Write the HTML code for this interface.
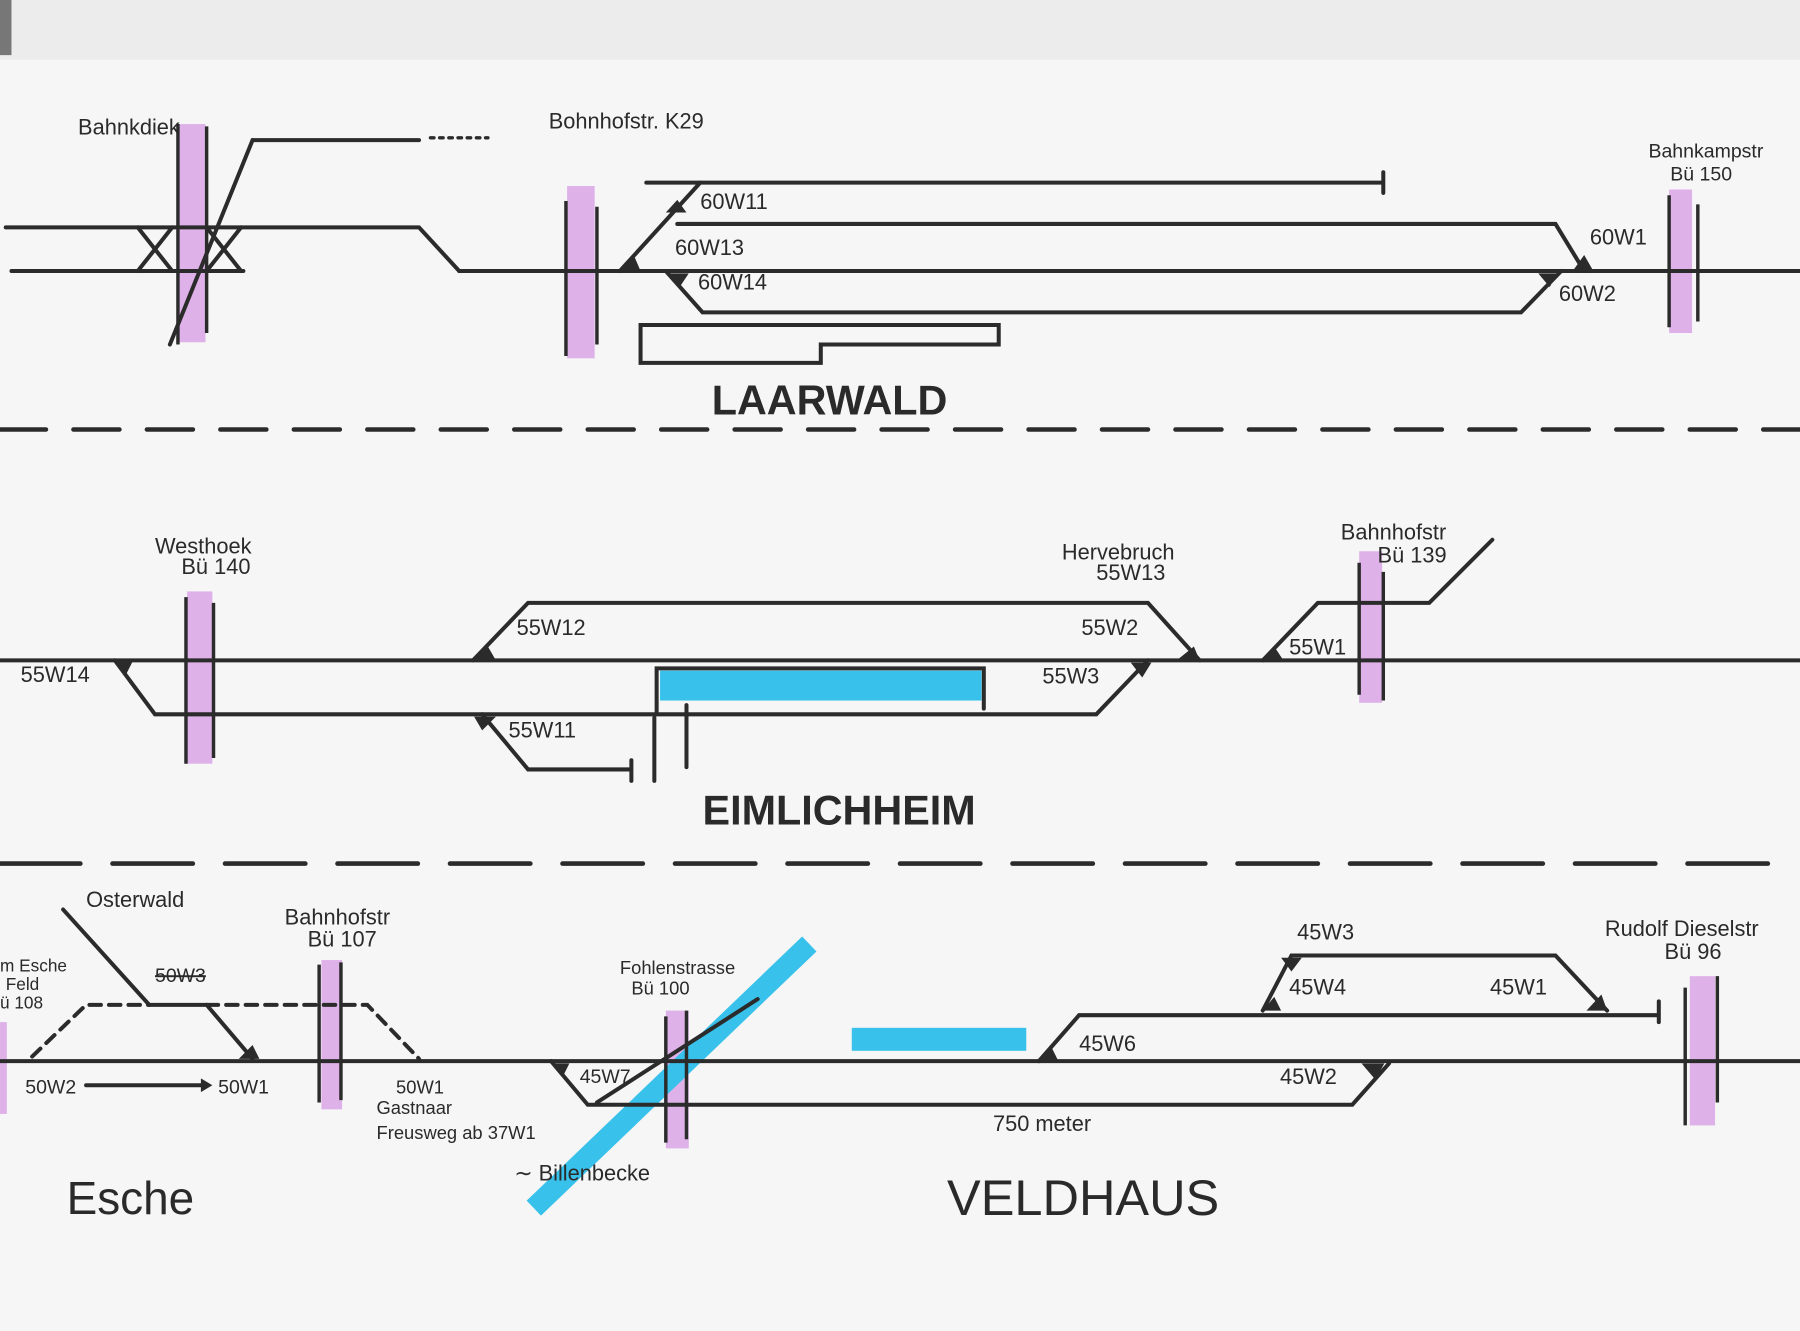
<!DOCTYPE html>
<html><head><meta charset="utf-8"><style>
html,body{margin:0;padding:0;background:#f5f5f5;}
svg{display:block}
text{font-family:"Liberation Sans",sans-serif;fill:#2a2a2a}
</style></head><body>
<svg width="1800" height="1331" viewBox="0 0 1568 1159" preserveAspectRatio="none" xmlns="http://www.w3.org/2000/svg">
<rect width="1568" height="1159" fill="#f6f6f6"/>
<rect width="1568" height="52" fill="#ececec"/>
<rect x="0" y="0" width="10" height="48" fill="#777"/>
<g fill="#d9a6e6" opacity="0.85">
<rect x="155" y="108" width="24" height="190"/>
<rect x="494" y="162" width="24" height="150"/>
<rect x="1454" y="165" width="20" height="125"/>
<rect x="163" y="515" width="22" height="150"/>
<rect x="1184" y="480" width="20" height="132"/>
<rect x="280" y="836" width="18" height="130"/>
<rect x="580" y="880" width="20" height="120"/>
<rect x="1472" y="850" width="22" height="130"/>
<rect x="0" y="890" width="6" height="80"/>
</g>
<rect x="575" y="584" width="280" height="26" fill="#38c1ea"/>
<path d="M465 1052 L705 822" stroke="#38c1ea" stroke-width="18"/>
<rect x="742" y="895" width="152" height="20" fill="#38c1ea"/>
<g stroke="#2b2b2b" stroke-width="3.5" fill="none" stroke-linecap="round">
<path d="M5 198 H365 L400 236"/>
<path d="M10 236 H212"/>
<path d="M220 122 H365"/>
<path d="M375 120 H425" stroke-dasharray="3 5" stroke-width="3"/>
<path d="M220 122 L148 300"/>
<path d="M120 198 L150 236 M150 198 L120 236 M180 198 L210 236 M210 198 L180 236"/>
<path d="M400 236 H1568"/>
<path d="M563 159 H1205 M1205 150 V168"/>
<path d="M610 159 L540 236"/>
<path d="M590 195 H1355 L1380 236"/>
<path d="M580 236 L612 272 H1325 L1360 236"/>
<path d="M558 283 H870 V300 H715 V316 H558 Z"/>
<path d="M0 374 H1568" stroke-dasharray="40 24" stroke-width="4"/>
<path d="M0 752 H1568" stroke-dasharray="70 28" stroke-width="4"/>
<path d="M0 575 H1568"/>
<path d="M100 575 L135 622 H420 L460 670 H550 M550 662 V680"/>
<path d="M420 622 H955 L1000 575"/>
<path d="M412 575 L460 525 H1000 L1045 575"/>
<path d="M1100 575 L1148 525 H1245 L1300 470"/>
<path d="M572 622 V582 H857 V617"/>
<path d="M570 625 V680 M598 614 V668"/>
<path d="M0 924 H1568"/>
<path d="M55 792 L130 875 H180 L220 922"/>
<path d="M28 920 L75 875 H130 M180 875 H320 L365 922" stroke-dasharray="10 7"/>
<path d="M75 945 H175"/>
<path d="M480 924 L512 962 H1178 L1210 926"/>
<path d="M905 924 L940 884 H1445 M1445 872 V890"/>
<path d="M1100 880 L1125 832 H1355 L1400 880"/>
<path d="M520 960 L660 870"/>
</g>
<path d="M175 939 L185 945 L175 951 Z" fill="#2b2b2b"/>
<g fill="#2b2b2b">
<path d="M580 185 L598 185 L590 174 Z"/>
<path d="M540 236 L558 236 L552 222 Z"/>
<path d="M582 238 L600 238 L592 250 Z"/>
<path d="M1370 236 L1388 236 L1380 222 Z"/>
<path d="M1340 238 L1356 238 L1350 250 Z"/>
<path d="M412 575 L432 575 L425 563 Z"/>
<path d="M100 575 L116 575 L110 587 Z"/>
<path d="M1025 575 L1045 575 L1040 563 Z"/>
<path d="M985 577 L1003 577 L995 590 Z"/>
<path d="M1100 575 L1118 575 L1110 563 Z"/>
<path d="M413 624 L432 624 L420 636 Z"/>
<path d="M208 922 L226 922 L220 910 Z"/>
<path d="M905 924 L922 924 L915 910 Z"/>
<path d="M1100 880 L1116 880 L1110 868 Z"/>
<path d="M1116 834 L1134 834 L1125 846 Z"/>
<path d="M1382 880 L1400 880 L1395 866 Z"/>
<path d="M1186 926 L1206 926 L1198 940 Z"/>
<path d="M480 926 L496 926 L490 938 Z"/>
</g>
<g stroke="#2b2b2b" stroke-width="3" fill="none">
<path d="M155 108 V300 M180 110 V290 M493 175 V310 M520 180 V300 M1454 170 V285 M1479 178 V280"/>
<path d="M162 520 V665 M186 525 V660 M1184 490 V605 M1205 498 V610"/>
<path d="M278 840 V960 M297 838 V958 M580 885 V995 M598 880 V992 M1468 860 V980 M1496 850 V960"/>
</g>
<g font-size="19">
<text x="68" y="117">Bahnkdiek</text>
<text x="478" y="112">Bohnhofstr. K29</text>
<text x="1436" y="137" font-size="17">Bahnkampstr</text>
<text x="1455" y="157" font-size="17">Bü 150</text>
<text x="610" y="182">60W11</text>
<text x="588" y="222">60W13</text>
<text x="608" y="252">60W14</text>
<text x="1385" y="213">60W1</text>
<text x="1358" y="262">60W2</text>
<text x="135" y="482">Westhoek</text>
<text x="158" y="500">Bü 140</text>
<text x="925" y="487">Hervebruch</text>
<text x="955" y="505">55W13</text>
<text x="1168" y="470">Bahnhofstr</text>
<text x="1200" y="490">Bü 139</text>
<text x="18" y="594">55W14</text>
<text x="450" y="553">55W12</text>
<text x="942" y="553">55W2</text>
<text x="908" y="595">55W3</text>
<text x="1123" y="570">55W1</text>
<text x="443" y="642">55W11</text>
<text x="75" y="790">Osterwald</text>
<text x="248" y="805">Bahnhofstr</text>
<text x="268" y="824">Bü 107</text>
<text x="0" y="846" font-size="15">m Esche</text>
<text x="5" y="862" font-size="15">Feld</text>
<text x="0" y="878" font-size="15">ü 108</text>
<text x="135" y="855" font-size="17" text-decoration="line-through">50W3</text>
<text x="22" y="952" font-size="17">50W2</text>
<text x="190" y="952" font-size="17">50W1</text>
<text x="345" y="952" font-size="16">50W1</text>
<text x="328" y="970" font-size="16">Gastnaar</text>
<text x="328" y="992" font-size="16">Freusweg ab 37W1</text>
<text x="540" y="848" font-size="16">Fohlenstrasse</text>
<text x="550" y="866" font-size="16">Bü 100</text>
<text x="505" y="943" font-size="17">45W7</text>
<text x="448" y="1028">∼ Billenbecke</text>
<text x="1130" y="818">45W3</text>
<text x="1123" y="866">45W4</text>
<text x="1298" y="866">45W1</text>
<text x="940" y="915">45W6</text>
<text x="1115" y="944">45W2</text>
<text x="865" y="985">750 meter</text>
<text x="1398" y="815">Rudolf Dieselstr</text>
<text x="1450" y="835">Bü 96</text>
</g>
<g font-size="36" font-weight="bold" fill="#222">
<text x="620" y="361">LAARWALD</text>
<text x="612" y="718">EIMLICHHEIM</text>
<text x="58" y="1057" font-weight="normal" font-size="40">Esche</text>
<text x="825" y="1058" font-size="44" font-weight="normal">VELDHAUS</text>
</g>
</svg>
</body></html>
